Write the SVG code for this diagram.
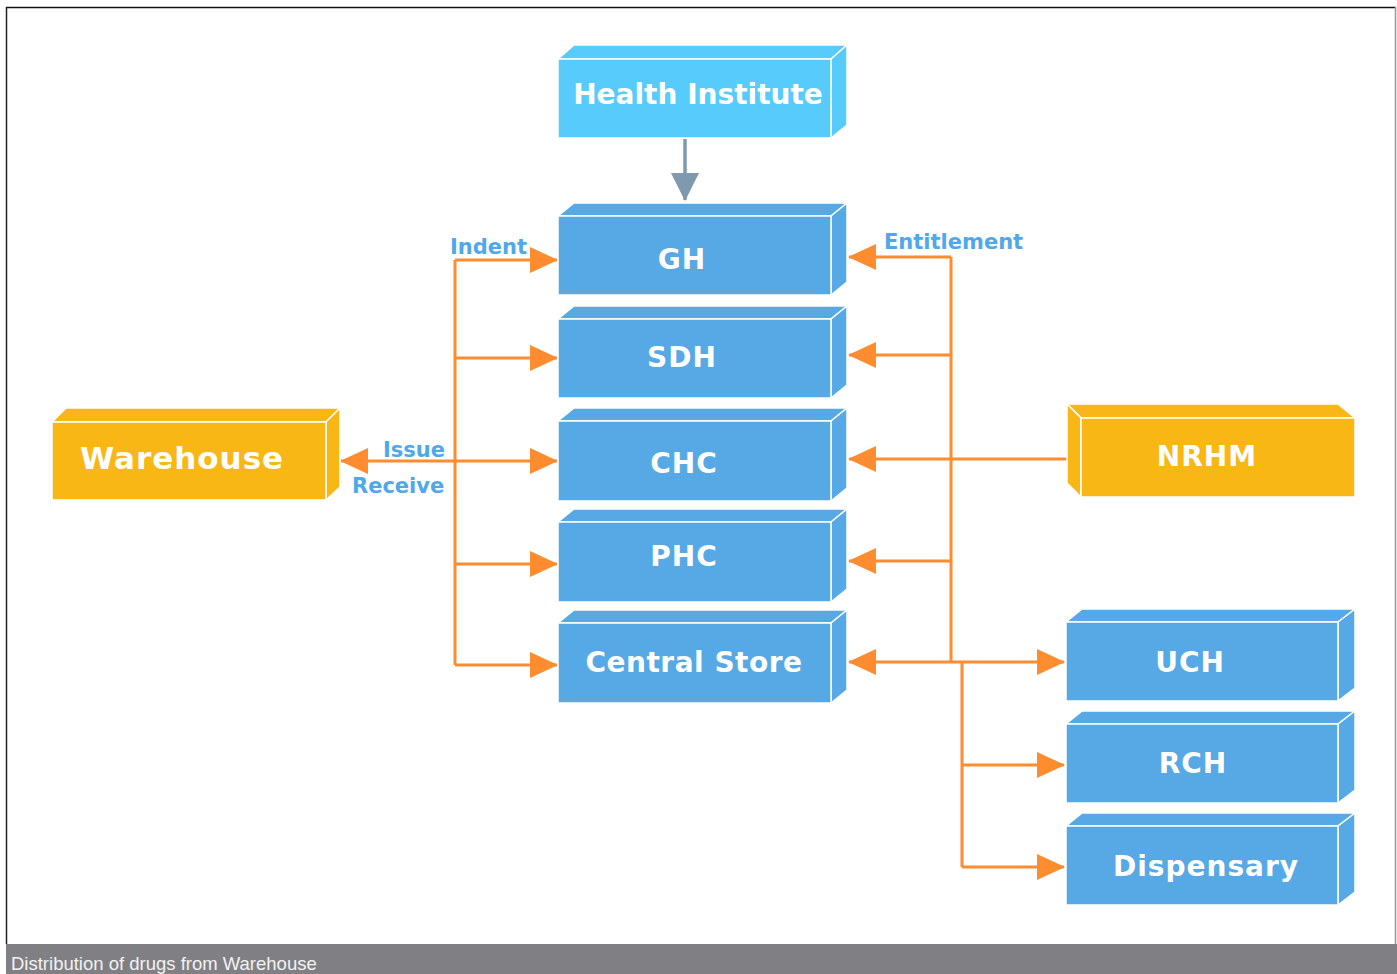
<svg xmlns="http://www.w3.org/2000/svg" width="1397" height="974" viewBox="0 0 1397 974">
<defs>
<style>
.bl{fill:#56A9E5;stroke:#fff;stroke-width:1.5;stroke-linejoin:round}
.cy{fill:#57CBFB;stroke:#fff;stroke-width:1.5;stroke-linejoin:round}
.yl{fill:#F9B715;stroke:#fff;stroke-width:1.5;stroke-linejoin:round}
.t{font-family:"DejaVu Sans",Verdana,sans-serif;font-weight:bold;font-size:28px;fill:#fff;text-anchor:middle;letter-spacing:1px}
.lb{font-family:"DejaVu Sans",Verdana,sans-serif;font-weight:bold;font-size:21px;fill:#4FA8EA}
.c{fill:none;stroke:#FF8C2E;stroke-width:3}
</style>
<marker id="ao" markerUnits="userSpaceOnUse" markerWidth="28" markerHeight="26" viewBox="0 0 28 26" refX="27" refY="13" orient="auto">
<path d="M0,0 L28,13 L0,26 Z" fill="#FF8C2E"/>
</marker>
<marker id="ag" markerUnits="userSpaceOnUse" markerWidth="28" markerHeight="28" viewBox="0 0 28 28" refX="27" refY="14" orient="auto">
<path d="M0,0 L28,14 L0,28 Z" fill="#7F9AAF"/>
</marker>
</defs>
<rect x="0" y="0" width="1397" height="974" fill="#fff"/>
<line x1="6" y1="7.5" x2="1396" y2="7.5" stroke="#111" stroke-width="1.5"/>
<line x1="6.5" y1="7" x2="6.5" y2="944" stroke="#222" stroke-width="1.5"/>
<line x1="1395.5" y1="7" x2="1395.5" y2="944" stroke="#999" stroke-width="1.5"/>
<rect x="6" y="944" width="1391" height="30" fill="#808084"/>
<text x="11" y="970" font-family="'Liberation Sans',Arial,sans-serif" font-size="18.5" fill="#f2f2f2">Distribution of drugs from Warehouse</text>

<g id="connectors">
<line x1="685" y1="139" x2="685" y2="200" stroke="#7F9AAF" stroke-width="3.5" marker-end="url(#ag)"/>
<path class="c" d="M455,260 V665"/>
<path class="c" d="M455,260 H557" marker-end="url(#ao)"/>
<path class="c" d="M455,358 H557" marker-end="url(#ao)"/>
<path class="c" d="M455,461 H557" marker-end="url(#ao)"/>
<path class="c" d="M455,564 H557" marker-end="url(#ao)"/>
<path class="c" d="M455,665 H557" marker-end="url(#ao)"/>
<path class="c" d="M455,461 H341" marker-end="url(#ao)"/>
<path class="c" d="M951,257 V662"/>
<path class="c" d="M951,257 H849" marker-end="url(#ao)"/>
<path class="c" d="M951,355 H849" marker-end="url(#ao)"/>
<path class="c" d="M1067,459 H849" marker-end="url(#ao)"/>
<path class="c" d="M951,561 H849" marker-end="url(#ao)"/>
<path class="c" d="M951,662 H849" marker-end="url(#ao)"/>
<path class="c" d="M951,662 H1064" marker-end="url(#ao)"/>
<path class="c" d="M962,662 V867"/>
<path class="c" d="M962,765 H1064" marker-end="url(#ao)"/>
<path class="c" d="M962,867 H1064" marker-end="url(#ao)"/>
</g>

<g id="labels">
<text class="lb" x="450" y="254">Indent</text>
<text class="lb" x="884" y="249">Entitlement</text>
<text class="lb" x="383" y="457">Issue</text>
<text class="lb" x="352" y="493">Receive</text>
</g>

<g id="health-institute">
<polygon class="cy" points="558,59 574,45 847,45 831,59"/>
<polygon class="cy" points="831,59 847,45 847,125 831,138"/>
<rect class="cy" x="558" y="59" width="273" height="79"/>
<text class="t" x="698" y="104" style="letter-spacing:0px">Health Institute</text>
</g>

<g id="gh">
<polygon class="bl" points="558,216 574,203 847,203 831,216"/>
<polygon class="bl" points="831,216 847,203 847,282 831,295"/>
<rect class="bl" x="558" y="216" width="273" height="79"/>
<text class="t" x="682" y="269">GH</text>
</g>

<g id="sdh">
<polygon class="bl" points="558,319 574,306 847,306 831,319"/>
<polygon class="bl" points="831,319 847,306 847,385 831,398"/>
<rect class="bl" x="558" y="319" width="273" height="79"/>
<text class="t" x="682" y="367">SDH</text>
</g>

<g id="chc">
<polygon class="bl" points="558,421 574,408 847,408 831,421"/>
<polygon class="bl" points="831,421 847,408 847,488 831,501"/>
<rect class="bl" x="558" y="421" width="273" height="80"/>
<text class="t" x="684" y="473">CHC</text>
</g>

<g id="phc">
<polygon class="bl" points="558,522 574,509 847,509 831,522"/>
<polygon class="bl" points="831,522 847,509 847,589 831,602"/>
<rect class="bl" x="558" y="522" width="273" height="80"/>
<text class="t" x="684" y="566">PHC</text>
</g>

<g id="central-store">
<polygon class="bl" points="558,623 574,610 847,610 831,623"/>
<polygon class="bl" points="831,623 847,610 847,690 831,703"/>
<rect class="bl" x="558" y="623" width="273" height="80"/>
<text class="t" x="694" y="672" style="letter-spacing:0.5px">Central Store</text>
</g>

<g id="warehouse">
<polygon class="yl" points="52,422 66,408 340,408 326,422"/>
<polygon class="yl" points="326,422 340,408 340,487 326,500"/>
<rect class="yl" x="52" y="422" width="274" height="78"/>
<text class="t" x="182" y="469" style="font-size:31px;letter-spacing:1px">Warehouse</text>
</g>

<g id="nrhm">
<polygon class="yl" points="1067,404 1338,404 1355,418 1081,418"/>
<polygon class="yl" points="1067,404 1081,418 1081,497 1067,483"/>
<rect class="yl" x="1081" y="418" width="274" height="79"/>
<text class="t" x="1207" y="466">NRHM</text>
</g>

<g id="uch">
<polygon class="bl" points="1066,622 1082,609 1355,609 1338,622"/>
<polygon class="bl" points="1338,622 1355,609 1355,688 1338,701"/>
<rect class="bl" x="1066" y="622" width="272" height="79"/>
<text class="t" x="1190" y="672">UCH</text>
</g>

<g id="rch">
<polygon class="bl" points="1066,724 1082,711 1355,711 1338,724"/>
<polygon class="bl" points="1338,724 1355,711 1355,790 1338,803"/>
<rect class="bl" x="1066" y="724" width="272" height="79"/>
<text class="t" x="1193" y="773">RCH</text>
</g>

<g id="dispensary">
<polygon class="bl" points="1066,826 1082,813 1355,813 1338,826"/>
<polygon class="bl" points="1338,826 1355,813 1355,892 1338,905"/>
<rect class="bl" x="1066" y="826" width="272" height="79"/>
<text class="t" x="1206" y="876">Dispensary</text>
</g>
</svg>
